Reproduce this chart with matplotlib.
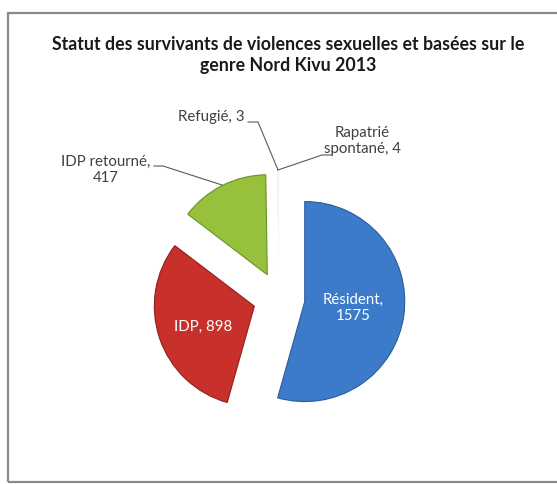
import numpy as np
import matplotlib.pyplot as plt
from matplotlib.patches import Rectangle

# data
categories = ['Résident', 'IDP', 'IDP retourné', 'Refugié', 'Rapatrié spontané']
values = [1575, 898, 417, 3, 4]
colors = ['#3b7bc9', '#c8302c', '#97c13c', '#e4ecf5', '#e4ecf5']
edges = ['#2a5c9c', '#8f1f1c', '#6c9128', 'none', 'none']

TITLE = 'Statut des survivants de violences sexuelles et basées sur le\ngenre Nord Kivu 2013'

W, H = 557, 484
CX, CY, R = 279, 298, 100  # pie centre and radius in pixels


def px(x, y):
    """pixel position in the picture -> data coords (1 unit = pie radius)"""
    return (x - CX) / R, (CY - y) / R


plt.rcParams['font.family'] = ['Lato', 'DejaVu Sans']

fig = plt.figure(figsize=(W / 100, H / 100), dpi=100)
ax = fig.add_axes([0, 0, 1, 1])

# chart area border
x0, y0 = px(8, 13)
x1, y1 = px(W + 5, 482)
ax.add_patch(Rectangle((x0, y1), x1 - x0, y0 - y1, fill=False,
                       edgecolor='#8a8a8a', linewidth=1.6, zorder=0))

wedges, _ = ax.pie(values, colors=colors, startangle=90, counterclock=False,
                   explode=[0.26] * len(values), radius=1.0, center=(0, 0),
                   wedgeprops={'linewidth': 0.8}, frame=True)
for w, ec in zip(wedges, edges):
    w.set_edgecolor(ec)
ax.set_xlim(-CX / R, (W - CX) / R)
ax.set_ylim((CY - H) / R, CY / R)
ax.set_aspect('equal')
ax.axis('off')

# title
tx, ty = px(288, 55)
ax.text(tx, ty, TITLE, ha='center', va='center', fontsize=12.8,
        fontweight='bold', color='#1a1a1a', linespacing=1.35)

lab = dict(fontsize=10.8, color='#404040', ha='center', va='center', linespacing=1.2)

# inside labels
ax.text(*px(353, 308), f'{categories[0]},\n{values[0]}', **{**lab, 'color': 'white'})
ax.text(*px(203, 327), f'{categories[1]}, {values[1]}', **{**lab, 'color': 'white'})

# outside labels with leader lines
ax.text(*px(106, 170), f'{categories[2]},\n{values[2]}', **lab)
ax.text(*px(211, 117), f'{categories[3]}, {values[3]}', **lab)
ax.text(*px(362, 141), f'Rapatrié\nspontané, {values[4]}', **lab)

leaders = [
    [(154, 166), (163, 166), (222, 185)],
    [(248, 122), (258, 122), (278, 170)],
    [(331, 155), (322, 155), (278, 170)],
]
for pts in leaders:
    xs, ys = zip(*[px(*p) for p in pts])
    ax.plot(xs, ys, color='#5a5a5a', linewidth=0.8)

fig.savefig('out.png', dpi=100)
